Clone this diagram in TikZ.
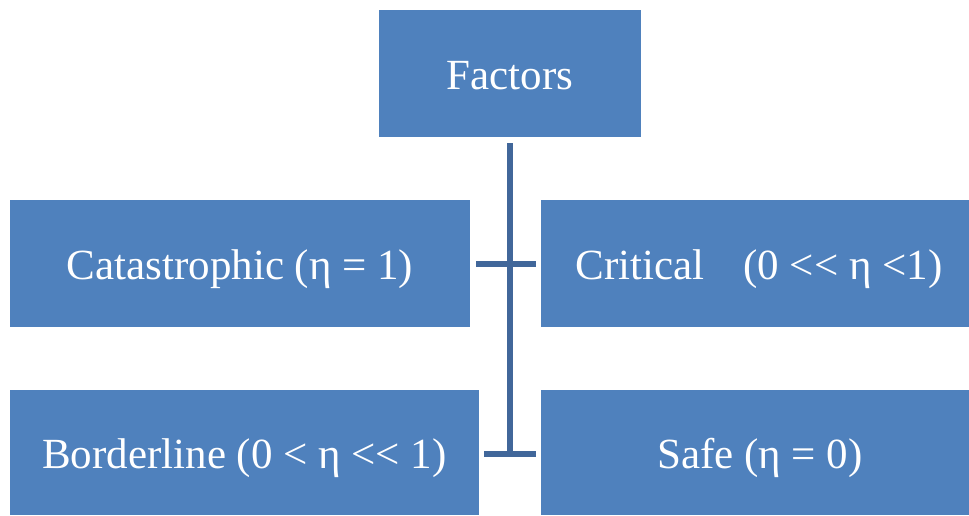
\documentclass[tikz,border=0pt]{standalone}
\usepackage{fontspec}
\setmainfont[Ligatures=NoCommon]{Liberation Serif}
\definecolor{boxblue}{HTML}{4F81BD}
\definecolor{linkblue}{HTML}{41679A}
\begin{document}
\begin{tikzpicture}[x=1pt,y=-1pt,
  factorbox/.style={fill=boxblue,draw=none,inner sep=0pt,text=white,
    text height=31pt,text depth=0pt,
    font=\fontsize{43}{51}\selectfont},
  link/.style={draw=linkblue,line width=5.5pt}]
\useasboundingbox (0,0) rectangle (969,515);
\node[factorbox,minimum width=262pt,minimum height=127pt] (fac) at (510,73.5) {Factors};
\node[factorbox,minimum width=460pt,minimum height=127pt] (cat) at (240,263.5) {Catastrophic (η = 1)};
\node[factorbox,minimum width=428pt,minimum height=127pt] (cri) at (755,263.5) {\hspace{8pt}Critical\hspace{0.9em}(0 <{}< η <1)};
\node[factorbox,minimum width=469pt,minimum height=125pt] (bor) at (244.5,452.5) {Borderline (0 < η <{}< 1)};
\node[factorbox,minimum width=428pt,minimum height=125pt] (saf) at (755,452.5) {\hspace{10pt}Safe (η = 0)};
\coordinate (top) at (510,143);
\coordinate (bot) at (510,454);
\coordinate (midl) at (476,264);
\coordinate (midr) at (536,264);
\coordinate (botl) at (484,454);
\coordinate (botr) at (536,454);
\draw[link] (top) -- (bot);
\draw[link] (midl) -- (midr);
\draw[link] (botl) -- (botr);
\end{tikzpicture}
\end{document}
